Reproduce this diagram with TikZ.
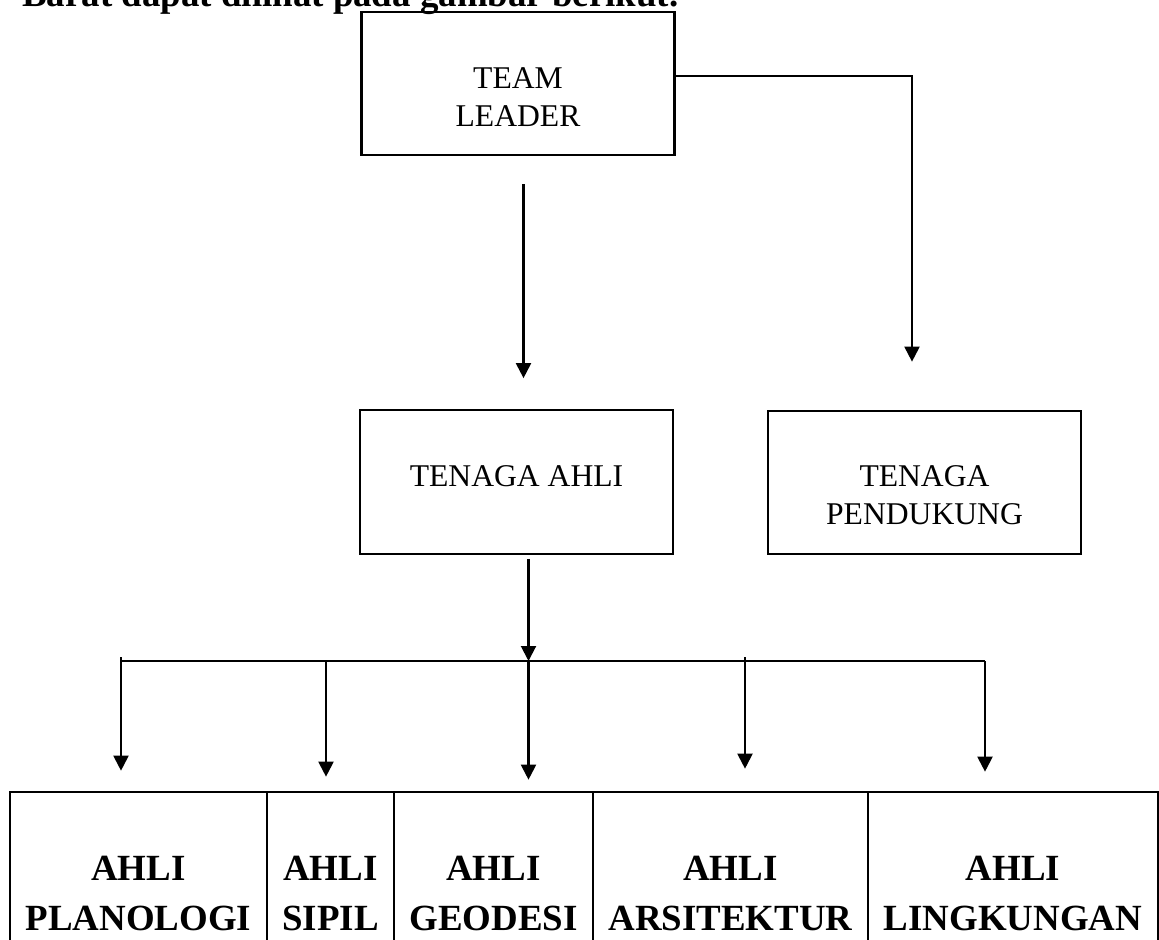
\documentclass[tikz,border=0pt]{standalone}
\usepackage{fontspec}
\setmainfont{Liberation Serif}
\usetikzlibrary{arrows.meta}

\tikzset{
  kotak/.style={draw, line width=1.25pt, minimum width=6.26cm, minimum height=2.87cm, inner sep=0pt},
  isi/.style={font=\fontsize{18}{21.5}\selectfont, align=center, inner sep=0pt},
  sel/.style={draw, line width=1.5pt, minimum height=4.06cm, inner sep=0pt, align=center,
    font=\bfseries\fontsize{21}{28.3}\selectfont},
  garis/.style={line width=1.15pt},
  panah/.style={line width=1.15pt, -{Triangle[length=0.3cm, width=0.3cm]}},
}

\begin{document}
\begin{tikzpicture}
    % Fijar el marco de la figura
    \useasboundingbox (0,0) rectangle (23.18,18.78);
    \clip (0,0) rectangle (23.18,18.78);

    % Texto cortado arriba
    \node[anchor=base west, inner sep=0pt, font=\bfseries\fontsize{21}{25}\selectfont] (judul)
        at (0.44,18.64) {Barat dapat dilihat pada gambar berikut.};

    % Cajas principales
    \node[kotak, label={[isi, anchor=north, yshift=-1.14cm]north:TEAM\\LEADER}] (lead) at (10.36,17.11) {};
    \node[kotak, label={[isi, anchor=north, yshift=-1.13cm]north:TENAGA AHLI}] (ahli) at (10.33,9.14) {};
    \node[kotak, label={[isi, anchor=north, yshift=-1.12cm]north:TENAGA\\PENDUKUNG}] (dukung) at (18.49,9.13) {};

    % Flechas desde el team leader
    \draw[panah, shorten <=0.56cm, shorten >=0.62cm] ([xshift=0.11cm]lead.south) -- ([xshift=0.11cm]lead.south |- ahli.north);
    \draw[panah, shorten >=0.96cm] ([yshift=0.15cm]lead.east) -| ([xshift=-0.25cm]dukung.north);

    % Cajas de los ahli
    \node[sel, minimum width=5.14cm] (planologi) at (2.77,0.91) {AHLI\\PLANOLOGI};
    \node[sel, minimum width=2.54cm] (sipil) at (6.61,0.91) {AHLI\\SIPIL};
    \node[sel, minimum width=3.98cm] (geodesi) at (9.87,0.91) {AHLI\\GEODESI};
    \node[sel, minimum width=5.50cm] (arsitektur) at (14.61,0.91) {AHLI\\ARSITEKTUR};
    \node[sel, minimum width=5.80cm] (lingkungan) at (20.26,0.91) {AHLI\\LINGKUNGAN};

    % Linea de reparto
    \coordinate (cabang) at (10.57,5.56);
    \coordinate (kiri) at (2.42,5.56);
    \coordinate (kanan) at (19.70,5.56);
    \draw[panah, shorten <=0.08cm] (cabang |- ahli.south) -- (cabang);
    \draw[garis] (kiri) -- (kanan);

    % Flechas hacia cada ahli
    \foreach \x/\n/\a/\g in {2.42/planologi/0.08/0.40, 6.52/sipil/0/0.28, 10.57/geodesi/0/0.22,
                             14.90/arsitektur/0.08/0.44, 19.70/lingkungan/0/0.38}
        \draw[panah, shorten >=\g cm] (\x,5.56+\a) -- (\x,5.56 |- \n.north);
\end{tikzpicture}
\end{document}
